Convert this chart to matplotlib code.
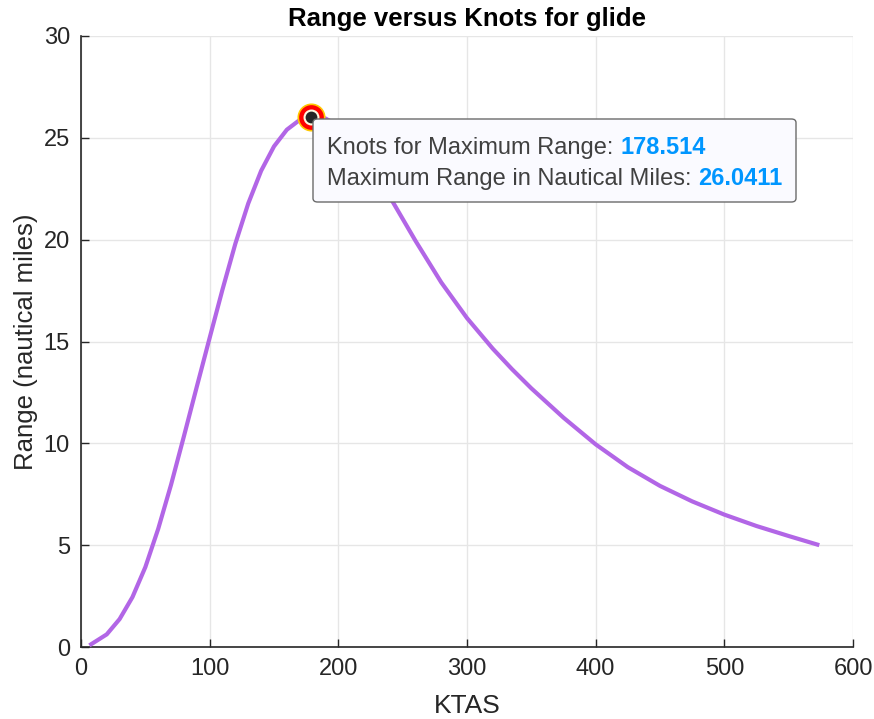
import matplotlib
matplotlib.use("Agg")
import matplotlib.pyplot as plt
from matplotlib.patches import FancyBboxPatch

# Data
ktas = [6.5, 20, 30, 40, 50, 60, 70, 80, 90, 100, 110, 120, 130, 140, 150,
        160, 170, 178.5, 190, 200, 210, 220, 230, 241.6, 260, 280, 300, 320,
        335, 350, 375, 400, 425, 450, 475, 500, 525, 550, 573.8]
range_nm = [0.08, 0.62, 1.37, 2.45, 3.92, 5.80, 7.97, 10.35, 12.78, 15.18,
            17.56, 19.81, 21.78, 23.38, 24.58, 25.40, 25.88, 26.04, 25.95,
            25.6, 24.98, 24.14, 23.16, 21.93, 19.94, 17.9, 16.15, 14.65,
            13.64, 12.7, 11.26, 9.95, 8.83, 7.91, 7.15, 6.5, 5.94, 5.45, 5.0]
max_knots = 178.514
max_range = 26.0411
xticks = [0, 100, 200, 300, 400, 500, 600]
yticks = [0, 5, 10, 15, 20, 25, 30]

plt.rcParams['font.family'] = ['Liberation Sans', 'DejaVu Sans']

fig = plt.figure(figsize=(8.74, 7.19), dpi=100)
ax = fig.add_axes([81/874, 1-647/719, (853-81)/874, (647-36)/719])

dark = '#262626'
ax.plot(ktas, range_nm, color='#b266e6', lw=3, solid_capstyle='butt',
        solid_joinstyle='round', zorder=3)

# marker
ax.plot([max_knots], [max_range], 'o', ms=19, mfc='#ff0000', mec='#ffc800', mew=1.2, zorder=5)
ax.plot([max_knots], [max_range], 'o', ms=10, mfc='#262626', mec='#fff8e0', mew=1.5, zorder=6)

ax.set_xlim(0, 600)
ax.set_ylim(0, 30)
ax.set_xticks(xticks)
ax.set_yticks(yticks)
ax.grid(True, color='#e6e6e6', lw=1)
ax.set_axisbelow(True)
for s in ['top', 'right']:
    ax.spines[s].set_visible(False)
for s in ['left', 'bottom']:
    ax.spines[s].set_color(dark)
    ax.spines[s].set_linewidth(1.2)
ax.tick_params(direction='in', length=6, width=1, colors=dark, labelsize=17, pad=8)
ax.set_xlabel('KTAS', fontsize=19, color=dark, labelpad=10)
ax.set_ylabel('Range (nautical miles)', fontsize=18.5, color=dark, labelpad=4)
ax.set_title('Range versus Knots for glide', fontsize=18.5, fontweight='bold', color='black', pad=7)

# datatip box
x0, x1 = 313, 796
y0, y1 = 119, 202
def fx(px):
    return (px - 81) / (853 - 81)
def fy(py):
    return (647 - py) / (647 - 36)
box = FancyBboxPatch((fx(x0), fy(y1)), fx(x1) - fx(x0), fy(y0) - fy(y1),
                     boxstyle='round,pad=0,rounding_size=0.006',
                     transform=ax.transAxes, facecolor='#fafaff', edgecolor='#6b6b6b',
                     lw=1.0, zorder=7, clip_on=False)
ax.add_patch(box)

lines = [('Knots for Maximum Range: ', '178.514', 154),
         ('Maximum Range in Nautical Miles: ', '26.0411', 185)]
for lab, val, base in lines:
    t = ax.text(fx(327), fy(base), lab, transform=ax.transAxes, fontsize=17,
                color='#404040', ha='left', va='baseline', zorder=8)
    ax.annotate(val, xy=(1, 0), xycoords=t, xytext=(0, 0), textcoords='offset points',
                fontsize=17, fontweight='bold', color='#0096ff', ha='left', va='bottom', zorder=8)

fig.savefig('out.png', dpi=100, facecolor='white')
